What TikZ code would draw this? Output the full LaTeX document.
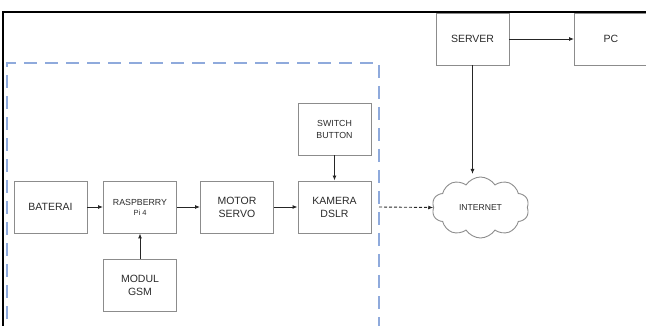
\documentclass[tikz,border=0pt]{standalone}
\usepackage{fontspec}
\setmainfont{Liberation Sans}
\usetikzlibrary{shapes.symbols,arrows.meta}
\definecolor{boxgray}{HTML}{8C8C8C}
\definecolor{txtgray}{HTML}{2A2A2A}
\definecolor{dashblue}{HTML}{8FAADC}
\tikzset{
  blk/.style={draw=boxgray, line width=0.9pt, minimum width=73pt, minimum height=52pt, inner sep=0pt, align=center, text=txtgray, font=\fontsize{10.5}{13}\selectfont},
  blksmall/.style={blk, font=\fontsize{8.8}{12}\selectfont},
  conn/.style={draw=black!85, line width=0.9pt, -{Latex[length=5pt,width=4pt]}},
}
\begin{document}
\begin{tikzpicture}[x=1pt,y=-1pt]
\useasboundingbox (0,0) rectangle (646,326);
% outer frame
\draw[line width=2.6pt] (3,340) -- (3,12) -- (650,12);
% dashed region
\draw[dashblue, line width=1.3pt, dash pattern=on 13pt off 8pt] (7,340) -- (7,63) -- (379,63) -- (379,340);
% nodes
\node[blk] (bat) at (50.5,207) {BATERAI};
\node[blksmall] (rpi) at (140,207) {RASPBERRY\\[-2pt]{\fontsize{7.5}{9}\selectfont Pi 4}};
\node[blk] (mot) at (237,207) {MOTOR\\SERVO};
\node[blk] (kam) at (334.5,207) {KAMERA\\DSLR};
\node[blksmall] (sw) at (334.5,129) {SWITCH\\BUTTON};
\node[blk] (gsm) at (140,285) {MODUL\\GSM};
\node[blk] (srv) at (472.5,39) {SERVER};
\node[blk] (pc) at (611,39) {PC};
\node[cloud, cloud puffs=10, cloud puff arc=115, aspect=1.6, draw=boxgray, line width=0.9pt, minimum width=97pt, minimum height=61pt, inner sep=0pt, text=txtgray, font=\fontsize{8.6}{10}\selectfont] (net) at (480.5,207.5) {INTERNET};
\coordinate (dstart) at (379,207);
\coordinate (nettop) at (472.5,174);
% connectors
\draw[conn] (bat) -- (rpi);
\draw[conn] (rpi) -- (mot);
\draw[conn] (mot) -- (kam);
\draw[conn] (gsm) -- (rpi);
\draw[conn] (sw) -- (kam);
\draw[conn] (srv) -- (pc);
\draw[conn] (srv.south) -- (nettop);
\draw[conn, dash pattern=on 3pt off 2pt] (dstart) -- (net.west);
\end{tikzpicture}
\end{document}
